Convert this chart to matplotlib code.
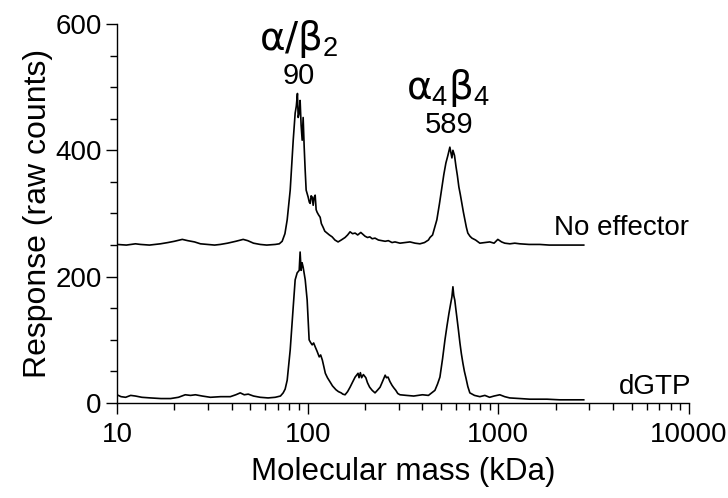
import matplotlib
matplotlib.use("Agg")
import matplotlib.pyplot as plt
from matplotlib.ticker import LogLocator, MultipleLocator, FixedLocator, NullFormatter

plt.rcParams['font.family'] = ['Liberation Sans', 'DejaVu Sans']
plt.rcParams['mathtext.fontset'] = 'custom'
plt.rcParams['mathtext.rm'] = 'Liberation Sans'
plt.rcParams['mathtext.it'] = 'Liberation Sans'
plt.rcParams['mathtext.bf'] = 'Liberation Sans:bold'

# ---- data: No effector trace (kDa, raw counts) ----
ne_mass = [10.0, 11.2, 12.5, 13.3, 14.8, 16.9, 18.5, 20.0, 22.0, 23.5, 25.5, 27.4, 30.0, 32.5, 34.8,
           38.0, 42.0, 45.9, 48.5, 52.0, 56.4, 61.0, 67.6, 71.0, 73.5, 76.0, 78.1, 81.0, 84.0, 86.0,
           87.2, 88.4, 89.2, 90.3, 91.3, 92.4, 93.6, 94.7, 95.9, 97.0, 98.2, 100.6, 102.0, 103.1, 104.3,
           105.6, 106.9, 108.0, 109.5, 110.8, 112.1, 114.0, 116.3, 118.0, 120.6, 123.0, 126.5, 130.0,
           134.4, 139.0, 144.4, 150.0, 157.1, 162.0, 166.9, 172.0, 177.4, 183.0, 190.0, 200.0, 206.0,
           212.0, 218.0, 225.6, 235.0, 245.0, 255.0, 265.0, 277.0, 287.2, 305, 325, 344, 366, 388, 410,
           430, 438, 452, 466, 476, 491, 506, 518, 531, 544, 557, 564, 571, 578, 589, 600, 610, 621, 632,
           644, 656, 668, 680, 692, 710, 727, 760, 800, 850, 902, 950, 994, 1040, 1081, 1150, 1220, 1296,
           1450, 1649, 1850, 2099, 2450, 2806]
ne_resp = [251, 250, 252, 251, 250, 252, 254, 256, 259, 257, 255, 252, 251, 250, 251,
           253, 256, 259, 257, 253, 251, 250, 251, 252, 256, 268, 290, 337, 416, 459,
           470, 490, 452, 459, 479, 440, 416, 452, 405, 370, 337, 326, 318, 316, 328,
           326, 313, 325, 329, 306, 302, 298, 294, 284, 278, 272, 269, 266,
           263, 258, 255, 258, 262, 266, 271, 268, 269, 266, 270, 264, 262,
           263, 260, 261, 258, 257, 256, 257, 254, 255, 253, 254, 255, 253, 252, 254,
           258, 262, 266, 280, 290, 315, 342, 362, 380, 392, 405, 396, 388, 400, 392, 374, 360, 342, 330,
           316, 302, 290, 278, 269, 264, 261, 258, 253, 254, 255, 253, 259, 255, 253, 252, 253, 252,
           251, 251, 250, 250, 250, 250]

# ---- data: dGTP trace (kDa, raw counts) ----
dg_mass = [10.0, 10.5, 11.1, 11.8, 12.5, 13.5, 15.0, 17.0, 19.1, 21.0, 22.8, 24.3, 25.8, 28.0, 30.9,
           35.0, 39.3, 42.0, 44.3, 46.5, 48.8, 52.0, 56.4, 62.0, 67.6, 72.0, 74.4, 76.2, 78.1, 81.0,
           84.0, 86.0, 88.1, 90.3, 91.3, 92.4, 93.5, 94.7, 95.9, 97.1, 99.4, 101.8, 103.5, 105.6, 107.5,
           109.5, 112.0, 115.0, 117.0, 119.4, 121.5, 123.8, 127.0, 131.9, 135.0, 140.7, 145.0, 149.9,
           153.0, 157.1, 162.0, 166.9, 172.0, 177.4, 183.8, 186.0, 189.0, 191.9, 196.0, 201.9, 206.0,
           211.4, 218.0, 225.6, 232.0, 239.8, 247.0, 255, 259, 264, 270, 277, 283, 290, 297, 305, 330,
           360, 400, 430, 465, 480, 494, 510, 525, 538, 551, 563, 571, 578, 584, 591, 598, 606, 618, 629,
           640, 652, 664, 676, 692, 709, 750, 800, 850, 900, 950, 1018, 1080, 1148, 1300, 1462, 1800,
           2099, 2450, 2806]
dg_resp = [13, 10, 9, 12, 11, 9, 8, 7, 7, 9, 13, 12, 13, 11, 9,
           10, 10, 13, 16, 13, 14, 11, 9, 8, 9, 11, 16, 22, 36, 84,
           152, 195, 206, 210, 239, 210, 222, 215, 205, 195, 163, 100, 96, 92, 95,
           89, 82, 73, 76, 68, 58, 47, 40, 32, 27, 21, 18, 16,
           14, 13, 18, 25, 33, 41, 47, 40, 48, 40, 45, 40, 32,
           25, 20, 16, 20, 25, 34, 44, 40, 41, 34, 28, 24, 20, 15, 13, 12,
           11, 13, 12, 20, 30, 41, 70, 100, 122, 142, 158, 168, 184, 170, 163, 150, 136, 115, 95,
           78, 63, 50, 40, 26, 16, 12, 10, 12, 9, 11, 13, 10, 8, 7, 6, 6,
           5, 5, 5]

x_ticks = [10, 100, 1000, 10000]
x_ticklabels = ['10', '100', '1000', '10000']
y_ticks = [0, 200, 400, 600]

fig = plt.figure(figsize=(7.28, 4.98), dpi=100)
ax = fig.add_axes([0.1607, 0.1908, 0.7857, 0.7610])

ax.plot(ne_mass, ne_resp, color='black', lw=1.2)
ax.plot(dg_mass, dg_resp, color='black', lw=1.2)

ax.set_xscale('log')
ax.set_xlim(10, 10000)
ax.set_ylim(0, 600)
ax.xaxis.set_major_locator(FixedLocator(x_ticks))
ax.set_xticklabels(x_ticklabels)
ax.xaxis.set_minor_locator(LogLocator(base=10, subs=range(2, 10), numticks=20))
ax.xaxis.set_minor_formatter(NullFormatter())
ax.yaxis.set_major_locator(FixedLocator(y_ticks))
ax.yaxis.set_minor_locator(MultipleLocator(50))

for s in ['top', 'right']:
    ax.spines[s].set_visible(False)
for s in ['left', 'bottom']:
    ax.spines[s].set_linewidth(1.0)

ax.tick_params(axis='both', which='major', length=8, width=1.0, labelsize=20, direction='out')
ax.tick_params(axis='both', which='minor', length=5, width=1.0, direction='out')
ax.tick_params(axis='x', which='major', pad=6)
ax.tick_params(axis='y', which='major', pad=3)

ax.set_xlabel('Molecular mass (kDa)', fontsize=22.5, labelpad=6)
ax.set_ylabel('Response (raw counts)', fontsize=23, labelpad=1.5)

greek = ['DejaVu Sans']
ax.text(90, 576, 'α/β$_2$', fontsize=28, ha='center', va='center', family=greek)
ax.text(90, 518, '90', fontsize=21, ha='center', va='center')
ax.text(545, 499, 'α$_4$β$_4$', fontsize=28, ha='center', va='center', family=greek)
ax.text(550, 440, '589', fontsize=21, ha='center', va='center')
ax.text(1954, 277, 'No effector', fontsize=20, ha='left', va='center')
ax.text(4295, 25, 'dGTP', fontsize=20, ha='left', va='center')

fig.savefig('out.png', dpi=100)
